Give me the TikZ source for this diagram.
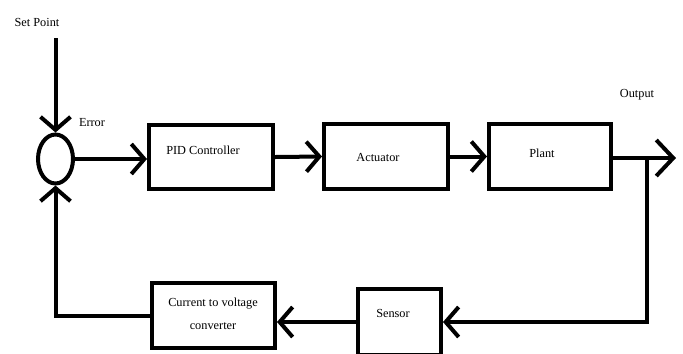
\documentclass[tikz,border=0pt]{standalone}
\usepackage{fontspec}
\setmainfont{Liberation Serif}
\usetikzlibrary{arrows.meta,shapes.geometric}

\begin{document}
\begin{tikzpicture}[
    x=0.02cm, y=-0.02cm,
    line width=0.08cm,
    blk/.style ={
        rectangle,
        draw=black,
        inner sep=0pt
    },
    sum/.style ={
        ellipse,
        draw=black,
        inner sep=0pt,
        minimum width=0.7cm,
        minimum height=0.98cm
    },
    txt/.style ={
        inner sep=1pt,
        font=\fontsize{7}{13}\selectfont,
        align=center
    },
    arr/.style ={-{Straight Barb[length=2.6mm,width=6mm]}},
    bigarr/.style ={-{Straight Barb[length=3.4mm,width=7.2mm]}}
    ]
    \useasboundingbox (0,0) rectangle (683,353);
    \clip (0,0) rectangle (683,353);

    \node[sum] (sum) at (55.5,159) {};
    \foreach \name/ \pos/ \w/ \h in {{pid/(211,157)/124/64}, {act/(386,156.5)/124/65}, {plant/(550,156.5)/122/65}, {sens/(399.5,322)/83/66}, {conv/(213.5,315.5)/123/65}}
        \node[blk, minimum width=\w*0.02cm, minimum height=\h*0.02cm] (\name) at \pos {};

    \node[txt] (pidt) at (203,150) {PID Controller};
    \node[txt] (actt) at (378,157) {Actuator};
    \node[txt] (plantt) at (542,153) {Plant};
    \node[txt] (senst) at (393,313) {Sensor};
    \node[txt] (convt) at (213,313.5) {Current to voltage\\converter};
    \node[txt] (spt) at (37,22) {Set Point};
    \node[txt] (errt) at (92,123) {Error};
    \node[txt] (outt) at (637,95) {Output};

    \coordinate (sp) at (55.5,38);
    \coordinate (out) at (676,158);
    \coordinate (br) at (647,158);

    \draw[arr] (sp) -- (sum.north);
    \draw[arr] (sum.east) -- (sum.east -| pid.west);
    \draw[arr] (pid.east) -- (act.west);
    \draw[arr] (act.east) -- (plant.west);
    \draw[bigarr] (plant.east |- out) -- (out);
    \draw[arr] (br) |- (sens.east);
    \draw[arr] (sens.west) -- (sens.west -| conv.east);
    \draw[arr] (conv.west) -| (sum.south);

\end{tikzpicture}
\end{document}
